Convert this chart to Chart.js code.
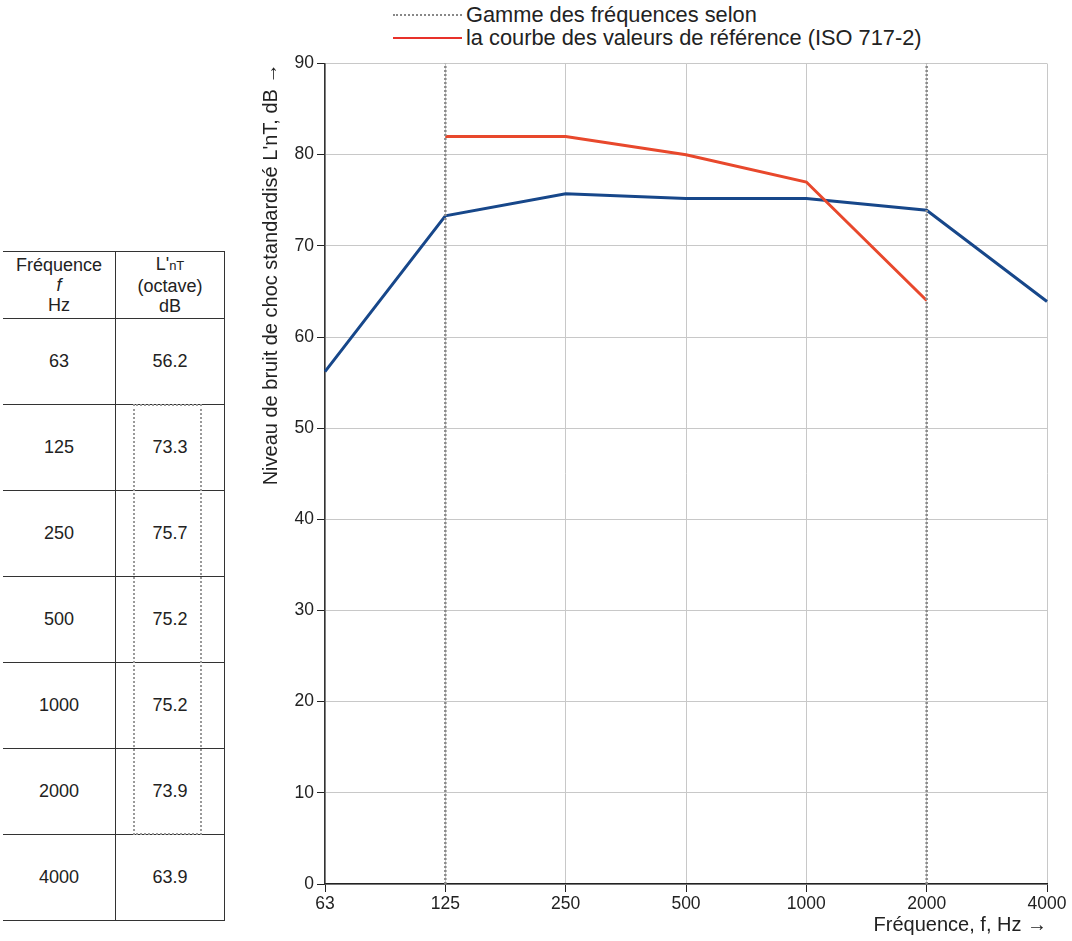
<!DOCTYPE html>
<html>
<head>
<meta charset="utf-8">
<script src="https://cdn.jsdelivr.net/npm/chart.js@4.4.1/dist/chart.umd.min.js"></script>
<style>
  body { margin:0; background:#fff; font-family:"Liberation Sans", Arial, sans-serif; color:#222; }
  #wrap { position:relative; width:1072px; height:941px; overflow:hidden; }
  #tbl { position:absolute; left:3px; top:251px; border-collapse:collapse; font-size:18px; }
  #tbl td { border:1px solid #333; text-align:center; width:108px; height:85px; padding:0; }
  #tbl td:first-child { border-left:none; width:112px; }
  #tbl tr.head td { height:66px; line-height:20px; }
  #box { position:absolute; left:133px; top:404px; width:69px; height:431px; border:2px dotted #999; box-sizing:border-box; }
  #legend { position:absolute; left:393px; top:3px; font-size:21.8px; line-height:23px; }
  #legend div { display:flex; align-items:center; }
  #legend span.l { display:inline-block; width:69px; margin-right:4px; }
  #chartBox { position:absolute; left:255px; top:50px; width:817px; height:891px; }
</style>
</head>
<body>
<div id="wrap">
  <table id="tbl"></table>
  <div id="box"></div>
  <div id="legend">
    <div><span class="l" style="border-top:2px dotted #888"></span>Gamme des fréquences selon</div>
    <div><span class="l" style="border-top:2.5px solid #e8312a"></span>la courbe des valeurs de référence (ISO 717-2)</div>
  </div>
  <div id="chartBox"><canvas id="c"></canvas></div>
</div>
<script>
// données
const frequences = ['63', '125', '250', '500', '1000', '2000', '4000'];
const niveaux = [56.2, 73.3, 75.7, 75.2, 75.2, 73.9, 63.9];
const reference = [null, 82, 82, 80, 77, 64, null];
const gammeDebut = '125';
const gammeFin = '2000';
const yTicks = [0, 10, 20, 30, 40, 50, 60, 70, 80, 90];

// tableau à gauche
const tbl = document.getElementById('tbl');
tbl.innerHTML = '<tr class="head"><td>Fréquence<br><i>f</i><br>Hz</td><td>L\'<span style="font-size:13px">nT</span><br>(octave)<br>dB</td></tr>' +
  frequences.map((f, i) => `<tr><td>${f}</td><td>${niveaux[i].toFixed(1)}</td></tr>`).join('');

const FONT = '"Liberation Sans", Arial, sans-serif';
const vline = (f) => ({
  data: [{x: f, y: yTicks[0]}, {x: f, y: yTicks[yTicks.length - 1]}],
  borderColor: '#8a8a8a', borderWidth: 2.5, borderDash: [2, 2], pointRadius: 0, fill: false
});

new Chart(document.getElementById('c'), {
  type: 'line',
  data: {
    labels: frequences,
    datasets: [
      vline(gammeDebut),
      vline(gammeFin),
      { data: reference, borderColor: '#e8482c', borderWidth: 3, pointRadius: 0, spanGaps: false, tension: 0 },
      { data: niveaux, borderColor: '#17478a', borderWidth: 3, pointRadius: 0, tension: 0 }
    ]
  },
  options: {
    responsive: true, maintainAspectRatio: false, animation: false,
    layout: { padding: { top: 12, right: 25 } },
    plugins: { legend: { display: false }, tooltip: { enabled: false } },
    scales: {
      x: {
        type: 'category', offset: false,
        grid: { color: '#c8c8c8', tickColor: '#222', tickLength: 8 },
        border: { color: '#222', width: 1.5 },
        ticks: { color: '#222', font: { family: FONT, size: 17.5 }, padding: 2, maxRotation: 0 },
        title: { display: true, text: 'Fréquence, f, Hz →', align: 'end', color: '#222', font: { family: FONT, size: 20 }, padding: { top: 0 } },
        afterFit: (s) => { s.height = 57; }
      },
      y: {
        min: 0, max: 90,
        afterBuildTicks: (s) => { s.ticks = yTicks.map(v => ({ value: v })); },
        grid: { color: '#c8c8c8', tickColor: '#222', tickLength: 8 },
        border: { color: '#333', width: 1.5 },
        ticks: { color: '#222', font: { family: FONT, size: 17.5 }, padding: 3 },
        title: { display: true, text: 'Niveau de bruit de choc standardisé L\'nT, dB →', align: 'end', color: '#222', font: { family: FONT, size: 20 }, padding: { bottom: 2 } },
        afterFit: (s) => { s.width = 70; }
      }
    }
  }
});
</script>
</body>
</html>
